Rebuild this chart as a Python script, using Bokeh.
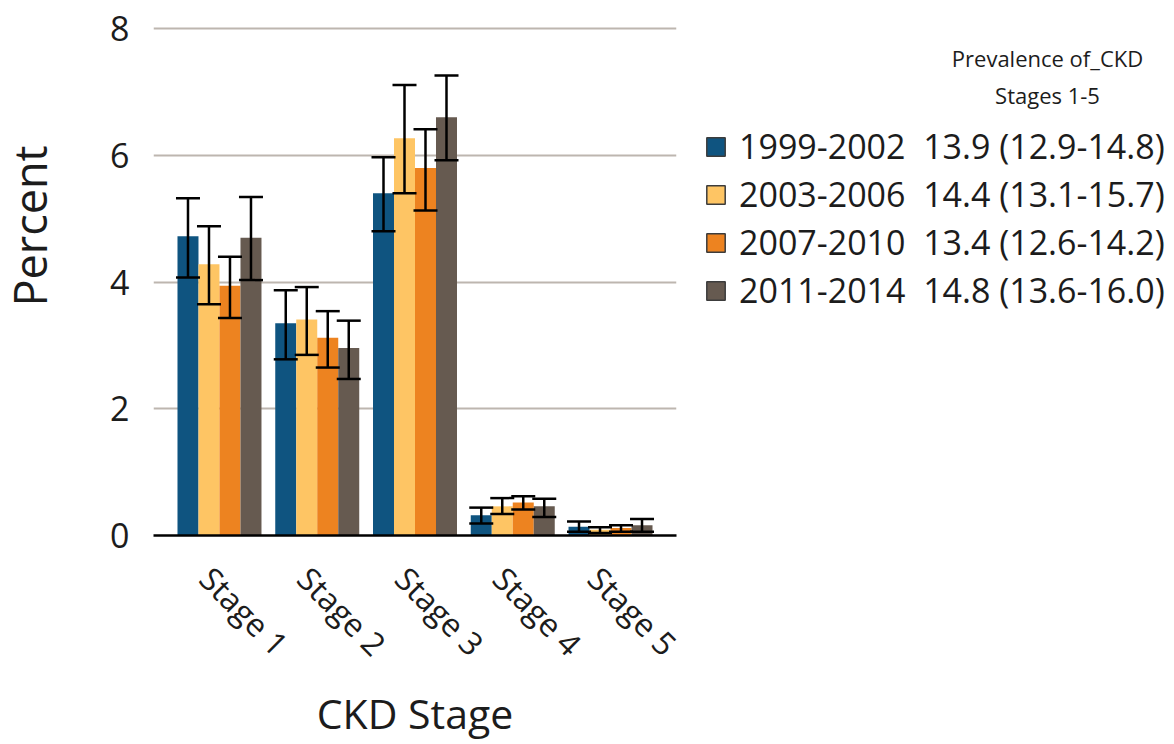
from bokeh.plotting import figure
from bokeh.layouts import row
from bokeh.models import (ColumnDataSource, Range1d, FixedTicker, Whisker, TeeHead,
                          Legend, LegendItem, Label, LinearAxis, Grid)
from bokeh.transform import dodge
from bokeh.embed import file_html
from bokeh.resources import INLINE

# ---------------- data ----------------
stages = ["Stage 1", "Stage 2", "Stage 3", "Stage 4", "Stage 5"]
periods = ["1999-2002", "2003-2006", "2007-2010", "2011-2014"]
prevalence = ["13.9 (12.9-14.8)", "14.4 (13.1-15.7)", "13.4 (12.6-14.2)", "14.8 (13.6-16.0)"]

val_1999 = [4.72, 3.35, 5.40, 0.32, 0.14]
low_1999 = [4.07, 2.78, 4.80, 0.19, 0.06]
upp_1999 = [5.32, 3.87, 5.97, 0.44, 0.22]

val_2003 = [4.28, 3.41, 6.27, 0.46, 0.09]
low_2003 = [3.65, 2.85, 5.40, 0.34, 0.04]
upp_2003 = [4.88, 3.92, 7.11, 0.59, 0.13]

val_2007 = [3.94, 3.12, 5.80, 0.52, 0.12]
low_2007 = [3.43, 2.65, 5.13, 0.41, 0.06]
upp_2007 = [4.40, 3.54, 6.41, 0.62, 0.16]

val_2011 = [4.70, 2.96, 6.60, 0.46, 0.16]
low_2011 = [4.03, 2.47, 5.92, 0.29, 0.06]
upp_2011 = [5.34, 3.39, 7.26, 0.58, 0.26]

y_ticks = [0, 2, 4, 6, 8]
legend_title = ["Prevalence of_CKD", "Stages 1-5"]

values = [val_1999, val_2003, val_2007, val_2011]
lows = [low_1999, low_2003, low_2007, low_2011]
upps = [upp_1999, upp_2003, upp_2007, upp_2011]
colors = ["#0f5480", "#fec564", "#ed8320", "#665a50"]

FONT = "Open Sans"
TXT = "#1c1c1c"
H = 744
W0 = 64          # left strip (y-axis title)
W2 = 488         # right strip (legend)

y_range = Range1d(0, 8.0316)

# ---------- main chart ----------
p = figure(width=1174 - W0 - W2, height=H, output_backend="svg", toolbar_location=None,
           x_range=Range1d(0.325, 5.675), y_range=y_range, x_axis_location=None,
           min_border_left=153 - W0, min_border_right=10, min_border_top=26,
           min_border_bottom=H - 535)
p.outline_line_color = None
p.center = [r for r in p.center if not (isinstance(r, Grid) and r.dimension == 0)]

xpos = list(range(1, len(stages) + 1))
bar_w = 0.2148
offsets = [-1.5 * bar_w, -0.5 * bar_w, 0.5 * bar_w, 1.5 * bar_w]

for vals, lo, hi, col, off in zip(values, lows, upps, colors, offsets):
    src = ColumnDataSource(dict(x=xpos, top=vals, lower=lo, upper=hi))
    p.vbar(x=dodge("x", off, range=p.x_range), top="top", bottom=0, width=bar_w,
           source=src, fill_color=col, line_color=None)
    wk = Whisker(source=src, base=dodge("x", off, range=p.x_range), upper="upper", lower="lower",
                 dimension="height", line_color="black", line_width=2.5, level="overlay",
                 upper_head=TeeHead(size=24, line_color="black", line_width=2.5),
                 lower_head=TeeHead(size=24, line_color="black", line_width=2.5))
    p.add_layout(wk)

# category axis (label range nudged so the rotated labels sit like the original's)
p.extra_x_ranges = {"lbl": Range1d(0.463, 5.813)}
xax = LinearAxis(x_range_name="lbl", ticker=FixedTicker(ticks=xpos),
                 major_label_overrides={i: s for i, s in zip(xpos, stages)})
xax.major_label_orientation = -0.7854
xax.major_label_text_font = FONT
xax.major_label_text_font_size = "32px"
xax.major_label_text_color = TXT
xax.major_label_standoff = 31
xax.axis_line_color = "black"
xax.axis_line_width = 2.5
xax.major_tick_line_color = None
xax.minor_tick_line_color = None
xax.axis_label = "CKD Stage"
xax.axis_label_text_font = FONT
xax.axis_label_text_font_size = "41px"
xax.axis_label_text_font_style = "normal"
xax.axis_label_text_color = TXT
xax.axis_label_standoff = 2
p.add_layout(xax, "below")

p.yaxis.ticker = FixedTicker(ticks=y_ticks)
p.yaxis.major_label_text_font = FONT
p.yaxis.major_label_text_font_size = "34px"
p.yaxis.major_label_text_color = TXT
p.yaxis.major_label_standoff = 18
p.yaxis.axis_line_color = None
p.yaxis.major_tick_line_color = None
p.yaxis.minor_tick_line_color = None

p.ygrid.ticker = FixedTicker(ticks=y_ticks[1:])
p.ygrid.grid_line_color = "#bdb6af"
p.ygrid.grid_line_width = 2


def strip(width):
    f = figure(width=width, height=H, output_backend="svg", toolbar_location=None,
               x_range=Range1d(0, width), y_range=y_range,
               x_axis_location=None, y_axis_location=None, min_border=0)
    f.outline_line_color = None
    f.center = [r for r in f.center if not isinstance(r, Grid)]
    return f


# ---------- left strip: y-axis title ----------
p0 = strip(W0)
p0.add_layout(Label(x=29, y=4.884, text="Percent", angle=90, angle_units="deg",
                    text_align="center", text_baseline="alphabetic", text_font=FONT,
                    text_font_size="45px", text_color=TXT))

# ---------- right strip: legend ----------
p2 = strip(W2)
nan = float("nan")
items = []
for col, per, prev in zip(colors, periods, prevalence):
    r = p2.vbar(x=[nan], top=[nan], width=1, fill_color=col, line_color="#3c3c3c",
                line_width=1.5)
    items.append(LegendItem(label=f"{per}  {prev}", renderers=[r]))

legend = Legend(items=items, location=(18, 222), orientation="vertical",
                glyph_width=23, glyph_height=23, label_standoff=12,
                label_text_font=FONT, label_text_font_size="34px", label_text_color=TXT,
                label_height=46, spacing=2, padding=0, margin=0,
                border_line_color=None, background_fill_alpha=0)
p2.add_layout(legend)

for txt, yb in zip(legend_title, [7.531, 6.943]):
    p2.add_layout(Label(x=361, y=yb, text=txt, text_align="center",
                        text_baseline="alphabetic", text_font=FONT, text_font_size="22px",
                        text_color=TXT))

open("out.html", "w").write(file_html(row(p0, p, p2), INLINE))
